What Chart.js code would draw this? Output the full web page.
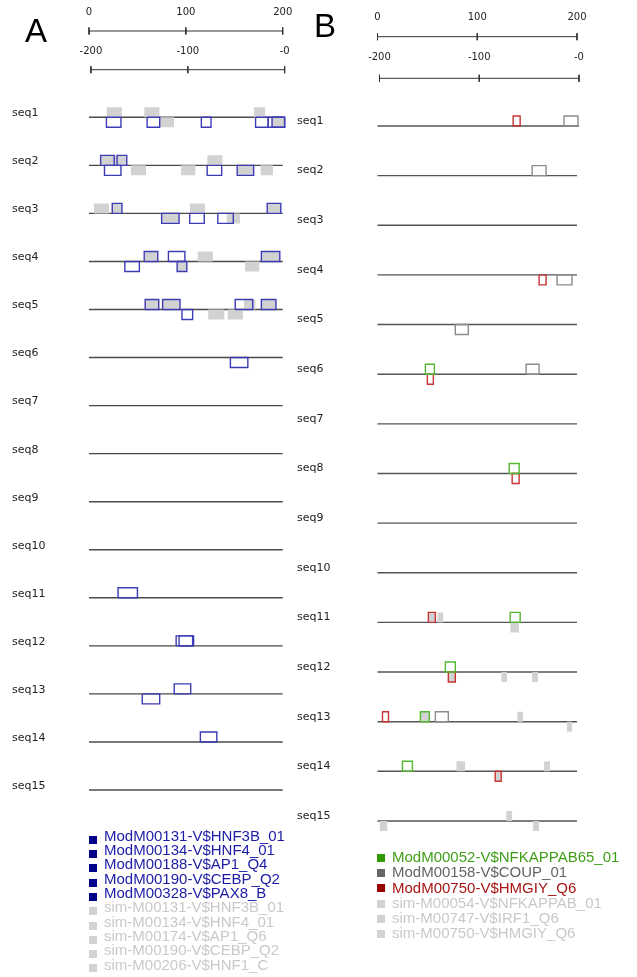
<!DOCTYPE html>
<html><head><meta charset="utf-8">
<script src="https://cdn.jsdelivr.net/npm/chart.js@4.4.1/dist/chart.umd.min.js"></script>
<style>
html,body{margin:0;padding:0;background:#fff;}
body{width:637px;height:977px;position:relative;overflow:hidden;font-family:"Liberation Sans",Arial,sans-serif;}
canvas{position:absolute;top:0;}
.letter{position:absolute;font-size:33px;line-height:33px;color:#000;}
.leg{position:absolute;font-size:15px;white-space:nowrap;}
.sq{position:absolute;}
</style></head><body>
<canvas id="cA" width="300" height="830" style="left:0px"></canvas>
<canvas id="cB" width="347" height="845" style="left:290px"></canvas>
<div class="letter" style="left:25px;top:14px;">A</div>
<div class="letter" style="left:314px;top:9px;">B</div>
<div id="legA"></div>
<div id="legB"></div>
<script>
// ================= DATA =================
const seqNames = ['seq1','seq2','seq3','seq4','seq5','seq6','seq7','seq8','seq9','seq10','seq11','seq12','seq13','seq14','seq15'];
const rulerTicks = [0, 100, 200];
const rulerTickLabels = ['0', '100', '200'];
const rulerEndTicks = [200, 100, 0];          // distance from the sequence end
const rulerEndLabels = ['-200', '-100', '-0'];

// ---- Panel A ---- sites: [seq, start, end, strand(+1 above / -1 below)]
const aSeqLengths = [200,200,200,200,200,200,200,200,200,200,200,200,200,200,200];
const aMaxLength = 202;
const aModSites = [
  [1,18,33,-1],[1,60,73,-1],[1,116,126,-1],[1,172,185,-1],[1,185,202,-1],[1,189,202,-1],
  [2,12,26,1],[2,29,39,1],[2,16,33,-1],[2,122,137,-1],[2,153,170,-1],
  [3,24,34,1],[3,75,93,-1],[3,104,119,-1],[3,133,149,-1],[3,184,198,1],
  [4,37,52,-1],[4,57,71,1],[4,82,99,1],[4,91,101,-1],[4,178,197,1],
  [5,58,72,1],[5,76,94,1],[5,96,107,-1],[5,151,169,1],[5,178,193,1],
  [6,146,164,-1],
  [11,30,50,1],
  [12,90,107,1],[12,93,108,1],
  [13,55,73,-1],[13,88,105,1],
  [14,115,132,1]
];
const aSimSites = [
  [1,18,34,1],[1,57,73,1],[1,73,88,-1],[1,170,182,1],[1,189,202,-1],
  [2,12,39,1],[2,43,59,-1],[2,95,110,-1],[2,122,138,1],[2,153,170,-1],[2,177,190,-1],
  [3,5,21,1],[3,24,34,1],[3,75,93,-1],[3,104,120,1],[3,142,156,-1],[3,184,198,1],
  [4,57,71,1],[4,91,101,-1],[4,112,128,1],[4,161,176,-1],[4,178,197,1],
  [5,58,72,1],[5,76,94,1],[5,123,140,-1],[5,143,159,-1],[5,160,172,1],[5,178,193,1]
];
const aLegendMod = ['ModM00131-V$HNF3B_01','ModM00134-V$HNF4_01','ModM00188-V$AP1_Q4','ModM00190-V$CEBP_Q2','ModM00328-V$PAX8_B'];
const aLegendSim = ['sim-M00131-V$HNF3B_01','sim-M00134-V$HNF4_01','sim-M00174-V$AP1_Q6','sim-M00190-V$CEBP_Q2','sim-M00206-V$HNF1_C'];

// ---- Panel B ----
const bSeqLengths = [202,200,200,200,200,200,200,200,200,200,200,200,200,200,200];
const bMaxLength = 202;
const bNfkbSites = [[6,48,57,1],[8,132,142,1],[11,133,143,1],[12,68,78,1],[13,43,52,1],[14,25,35,1]];
const bCoupSites = [[1,187,201,1],[2,155,169,1],[4,180,195,-1],[5,78,91,-1],[6,149,162,1],[13,58,71,1]];
const bHmgiySites = [[1,136,143,1],[4,162,169,-1],[6,50,56,-1],[8,135,142,-1],[11,51,58,1],[12,71,78,-1],[13,5,11,1],[14,118,124,-1]];
const bSimSites = [
  [11,51,58,1],[11,60,66,1],[11,133,142,-1],
  [12,71,78,-1],[12,124,130,-1],[12,155,161,-1],
  [13,43,52,1],[13,140,146,1],[13,190,195,-1],
  [14,79,88,1],[14,118,124,-1],[14,167,173,1],
  [15,2,10,-1],[15,129,135,1],[15,156,162,-1]
];
const bLegend = ['ModM00052-V$NFKAPPAB65_01','ModM00158-V$COUP_01','ModM00750-V$HMGIY_Q6','sim-M00054-V$NFKAPPAB_01','sim-M00747-V$IRF1_Q6','sim-M00750-V$HMGIY_Q6'];

// ================= STYLE / LAYOUT =================
const BLUE_LINE = '#3c3cb6', BLUE_SQ = '#000088', BLUE_TXT = '#1c1ca6';
const SIM_FILL = '#d2d2d2', SIM_TXT = '#c9c9c9';
const GREEN_LINE = '#55b833', GREEN_SQ = '#339900', GREEN_TXT = '#3f9f18';
const COUP_LINE = '#8c8c8c', COUP_SQ = '#666666', COUP_TXT = '#666666';
const RED_LINE = '#c83434', RED_SQ = '#990000', RED_TXT = '#a81515';

function makePanel(id, P) {
  const k = P.k;
  const xMin = -P.x0 / k, xMax = xMin + P.width / k;
  const yMin = 1 - P.seqTop / P.seqGap, yMax = yMin + P.height / P.seqGap;
  const pxToY = px => yMin + px / P.seqGap;
  const hb = P.boxH / P.seqGap;
  const base = {showLine: true, pointRadius: 0, pointHoverRadius: 0, tension: 0, clip: false, fill: false};
  const ds = [];
  // sequence lines
  P.lengths.forEach((len, i) => ds.push(Object.assign({}, base, {
    data: [{x: 0, y: i + 1}, {x: len, y: i + 1}], borderColor: P.lineColor, borderWidth: 1.4, order: 3})));
  // rulers
  const th = 3.5 / P.seqGap;
  const r1 = pxToY(P.rulerPx[0]), r2 = pxToY(P.rulerPx[1]);
  const endPos = rulerEndTicks.map(t => P.maxLength - t);
  const addRuler = (pos, ry) => {
    ds.push(Object.assign({}, base, {data: [{x: pos[0], y: ry}, {x: pos[pos.length - 1], y: ry}], borderColor: '#333', borderWidth: 1, order: 3}));
    pos.forEach(t => ds.push(Object.assign({}, base, {data: [{x: t, y: ry - th}, {x: t, y: ry + th}], borderColor: '#333', borderWidth: 1, order: 3})));
  };
  addRuler(rulerTicks, r1);
  addRuler(endPos, r2);
  // boxes
  P.groups.forEach(g => g.sites.forEach(([s, a, b, strand]) => {
    const top = strand > 0 ? s - hb : s + hb;
    if (g.fill) {
      ds.push(Object.assign({}, base, {data: [{x: a, y: top}, {x: b, y: top}], fill: {value: s},
        backgroundColor: g.fill, borderColor: 'rgba(0,0,0,0)', borderWidth: 0, order: 2}));
    } else {
      ds.push(Object.assign({}, base, {data: [{x: a, y: s}, {x: a, y: top}, {x: b, y: top}, {x: b, y: s}, {x: a, y: s}],
        borderColor: g.stroke, borderWidth: 1.4, order: 1}));
    }
  }));

  const textPlugin = {
    id: 'texts' + id,
    afterDatasetsDraw(chart) {
      const ctx = chart.ctx, xs = chart.scales.x, ys = chart.scales.y;
      ctx.save();
      ctx.fillStyle = '#222';
      ctx.textBaseline = 'middle';
      ctx.font = '11px "DejaVu Sans"';
      ctx.textAlign = 'left';
      seqNames.forEach((n, i) => ctx.fillText(n, P.labelX, ys.getPixelForValue(i + 1) - P.labelDy));
      ctx.font = '10px "DejaVu Sans"';
      ctx.textAlign = 'center';
      rulerTicks.forEach((t, i) => ctx.fillText(rulerTickLabels[i], xs.getPixelForValue(t), P.rulerLabelPx[0]));
      endPos.forEach((t, i) => ctx.fillText(rulerEndLabels[i], xs.getPixelForValue(t), P.rulerLabelPx[1]));
      ctx.restore();
    }
  };

  return new Chart(document.getElementById(id), {
    type: 'scatter',
    data: {datasets: ds},
    options: {
      responsive: false, animation: false, events: [],
      layout: {padding: 0},
      plugins: {legend: {display: false}, tooltip: {enabled: false}},
      scales: {
        x: {type: 'linear', min: xMin, max: xMax, bounds: 'data', display: false},
        y: {type: 'linear', min: yMin, max: yMax, bounds: 'data', reverse: true, display: false}
      }
    },
    plugins: [textPlugin]
  });
}

makePanel('cA', {
  width: 300, height: 830, x0: 89, k: 0.9685, seqTop: 117.3, seqGap: 48.05, boxH: 10,
  rulerPx: [31, 69.7], rulerLabelPx: [12.7, 51.7], labelX: 12, labelDy: 4,
  lineColor: '#4a4a4a', lengths: aSeqLengths, maxLength: aMaxLength,
  groups: [{sites: aSimSites, fill: SIM_FILL}, {sites: aModSites, stroke: BLUE_LINE}]
});
makePanel('cB', {
  width: 347, height: 845, x0: 87.5, k: 0.9975, seqTop: 126, seqGap: 49.64, boxH: 10,
  rulerPx: [36.7, 78.3], rulerLabelPx: [17.3, 57.3], labelX: 7, labelDy: 5,
  lineColor: '#555', lengths: bSeqLengths, maxLength: bMaxLength,
  groups: [{sites: bSimSites, fill: SIM_FILL}, {sites: bCoupSites, stroke: COUP_LINE},
           {sites: bNfkbSites, stroke: GREEN_LINE}, {sites: bHmgiySites, stroke: RED_LINE}]
});

// ================= LEGENDS (HTML text) =================
function legend(hostId, items, L) {
  const host = document.getElementById(hostId);
  items.forEach((it, i) => {
    const baseline = L.firstBaseline + i * L.gap;
    const row = document.createElement('div');
    row.className = 'leg';
    row.style.left = L.textX + 'px';
    row.style.lineHeight = '16px';
    row.style.top = (baseline - 12.9) + 'px';
    row.style.color = it.txt;
    row.textContent = it.name;
    host.appendChild(row);
    const sq = document.createElement('div');
    sq.className = 'sq';
    sq.style.left = L.sqX + 'px';
    sq.style.top = (baseline + L.sqDy) + 'px';
    sq.style.width = L.sq + 'px';
    sq.style.height = L.sq + 'px';
    sq.style.background = it.sq;
    host.appendChild(sq);
  });
}
legend('legA',
  aLegendMod.map(n => ({name: n, txt: BLUE_TXT, sq: BLUE_SQ}))
    .concat(aLegendSim.map(n => ({name: n, txt: SIM_TXT, sq: SIM_FILL}))),
  {firstBaseline: 840.7, gap: 14.3, textX: 104, sqX: 89, sqDy: -5, sq: 8});
legend('legB', [
  {name: bLegend[0], txt: GREEN_TXT, sq: GREEN_SQ},
  {name: bLegend[1], txt: COUP_TXT, sq: COUP_SQ},
  {name: bLegend[2], txt: RED_TXT, sq: RED_SQ},
  {name: bLegend[3], txt: SIM_TXT, sq: SIM_FILL},
  {name: bLegend[4], txt: SIM_TXT, sq: SIM_FILL},
  {name: bLegend[5], txt: SIM_TXT, sq: SIM_FILL}
], {firstBaseline: 862, gap: 15.2, textX: 392, sqX: 377, sqDy: -8, sq: 8});
</script>
</body></html>
